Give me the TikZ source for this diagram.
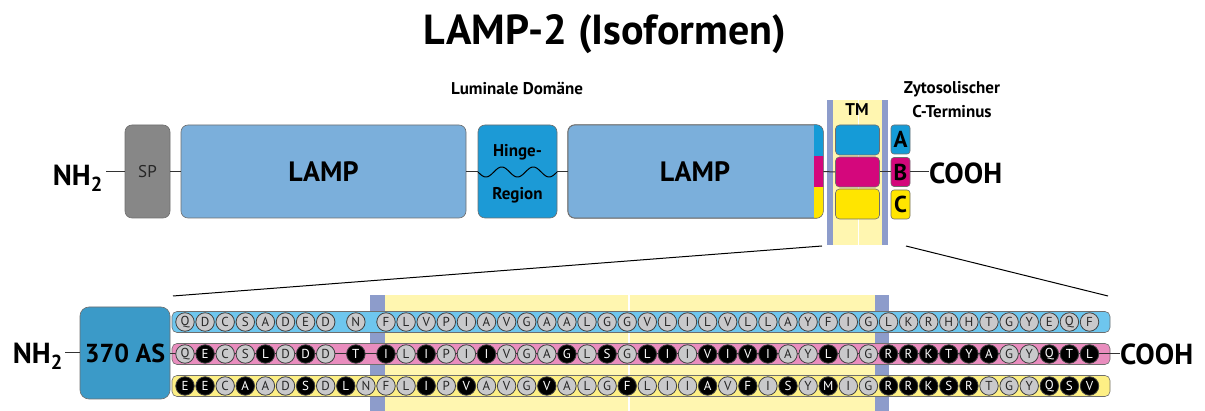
\documentclass[tikz,border=0pt]{standalone}
\usepackage{fontspec}
\setmainfont{PT Sans}
\usetikzlibrary{calc}
\definecolor{lampblue}{HTML}{7BAFDB}
\definecolor{hingeblue}{HTML}{1C9AD6}
\definecolor{spgrey}{HTML}{878787}
\definecolor{tmyellow}{HTML}{FFF6B0}
\definecolor{barblue}{HTML}{8D9CCB}
\definecolor{isoA}{HTML}{159BD7}
\definecolor{isoB}{HTML}{D4077C}
\definecolor{isoC}{HTML}{FFE500}
\definecolor{rowA}{HTML}{6EC6EE}
\definecolor{rowB}{HTML}{E98DBE}
\definecolor{rowC}{HTML}{FDEF85}
\definecolor{asblue}{HTML}{3B9AC8}
\definecolor{resgrey}{HTML}{C9C9CB}
\definecolor{edge}{HTML}{6E6E6E}
\newcommand{\seqpart}[4]{%
  \foreach \l/\c [count=\i from #2] in {#3} {
    \node[res\c] (#4-\i) at ({185+(\i-1)*20.1}, #1) {\l};
  }}
\begin{document}
\begin{tikzpicture}[x=1pt,y=-1pt,
  box/.style={draw=edge, line width=0.6pt, rounded corners=7pt, inner sep=0pt},
  conn/.style={line width=1pt, draw=black!80},
  lbl/.style={font=\bfseries\fontsize{17}{19}\selectfont, align=center},
  big/.style={font=\bfseries\fontsize{29}{32}\selectfont, inner sep=0pt},
  rowbar/.style={draw=edge, line width=0.6pt, rounded corners=5pt, minimum width=938, minimum height=21, inner sep=0pt},
  resg/.style={circle, draw=black!75, line width=0.8pt, fill=resgrey, minimum size=18.5, inner sep=0pt, text=black!85, font=\fontsize{13}{13}\selectfont},
  resb/.style={resg, fill=black, text=white},
  tmbox/.style={draw=edge, line width=0.6pt, rounded corners=4pt, minimum width=44, minimum height=30, inner sep=0pt},
  ctbox/.style={draw=edge, line width=0.6pt, rounded corners=3pt, minimum width=19, minimum height=29, inner sep=0pt, font=\bfseries\fontsize{23}{23}\selectfont},
  vbar/.style={fill=barblue, draw=none}]
\useasboundingbox (0,0) rectangle (1205,411);

% title and labels
\node[font=\bfseries\fontsize{42}{44}\selectfont] (title) at (605,34) {LAMP-2 (Isoformen)};
\node[lbl] (lum) at (517,88) {Luminale Domäne};
\node[lbl, align=center, font=\bfseries\fontsize{17}{24}\selectfont] (cyto) at (952,100) {Zytosolischer\\C-Terminus};

% TM band (top)
\fill[tmyellow] (831,100) rectangle (884,245);
\draw[white, line width=1pt] (858,100) -- (858,245);
\fill[vbar] (827,100) rectangle (833,245);
\fill[vbar] (882,100) rectangle (888,245);
\node[lbl] (tm) at (857,110) {TM};

% top boxes
\node[big, anchor=base east] (nh2) at (103,186) {NH\textsubscript{2}};
\node[box, fill=spgrey, minimum width=45, minimum height=93, font=\fontsize{17}{17}\selectfont, text=black!85] (sp) at (147.5,171.5) {SP};
\node[box, fill=lampblue, minimum width=285, minimum height=93, font=\bfseries\fontsize{28}{28}\selectfont] (lamp1) at (323.5,171.5) {LAMP};
\node[box, fill=hingeblue, minimum width=79, minimum height=93] (hinge) at (517.5,171.5) {};
\node[lbl] (hinget) at (517.5,152) {Hinge-};
\node[lbl] (hingeb) at (517.5,195) {Region};
\draw[line width=1pt] plot[domain=0:79, samples=80] ({478+\x}, {172+5*sin(\x/79*2.5*360)});
\node[box, fill=lampblue, minimum width=255, minimum height=93] (lamp2) at (695.5,171.5) {};
\begin{scope}
  \clip[rounded corners=7pt] (lamp2.north west) rectangle (lamp2.south east);
  \fill[isoA] (814,120) rectangle (825,156);
  \fill[isoB] (814,156) rectangle (825,187);
  \fill[isoC] (814,187) rectangle (825,222);
\end{scope}
\draw[draw=edge, line width=0.6pt, rounded corners=7pt] (lamp2.north west) rectangle (lamp2.south east);
\node[font=\bfseries\fontsize{28}{28}\selectfont] (lamp2t) at (695,172) {LAMP};

\node[tmbox, fill=isoA] (tma) at (857.5,140) {};
\node[tmbox, fill=isoB] (tmb) at (857.5,172) {};
\node[tmbox, fill=isoC] (tmc) at (857.5,204) {};
\node[ctbox, fill=isoA] (ca) at (900.5,139.5) {A};
\node[ctbox, fill=isoB] (cb) at (900.5,172) {B};
\node[ctbox, fill=isoC] (cc) at (900.5,204.5) {C};
\node[big, anchor=west] (cooh) at (929,173) {COOH};

\draw[conn] (nh2.east |- sp.west) ++(3,0) -- (sp.west);
\draw[conn] (sp.east) -- (lamp1.west);
\draw[conn] (lamp1.east) -- (hinge.west);
\draw[conn] (hinge.east) -- (lamp2.west);
\draw[conn] (lamp2.east) -- (tmb.west);
\draw[conn] (tmb.east) -- (cb.west);
\draw[conn] (cb.east) -- (cooh.west |- cb.east);

% zoom lines
\coordinate (zl1) at (822,246);
\coordinate (zr1) at (906,246);
\coordinate (zl2) at (173,296);
\coordinate (zr2) at (1108,296);
\draw[line width=1pt] (zl1) -- (zl2);
\draw[line width=1pt] (zr1) -- (zr2);

% bottom TM band
\fill[tmyellow] (385,295) rectangle (876,411);
\draw[white, line width=1.5pt] (629,295) -- (629,411);
\fill[vbar] (370,295) rectangle (385,411);
\fill[vbar] (875,295) rectangle (889,411);

% bottom left/right
\node[big, anchor=base east] (nh2b) at (63,364) {NH\textsubscript{2}};
\node[box, fill=asblue, rounded corners=9pt, minimum width=90, minimum height=92, font=\bfseries\fontsize{26}{26}\selectfont] (as) at (125,353) {370 AS};
\node[big, anchor=west] (coohb) at (1120,354) {COOH};
\draw[conn] (nh2b.east |- as.west) ++(2,0) -- (as.west);

% rows
\node[rowbar, fill=rowA] (rowa) at (641,322) {};
\node[rowbar, fill=rowB] (rowb) at (641,354) {};
\node[rowbar, fill=rowC] (rowc) at (641,386) {};
\draw[conn] (as.east |- rowb.center) -- (coohb.west |- rowb.center);

% row A
\seqpart{322}{1}{Q/g,D/g,C/g,S/g,A/g,D/g,E/g,D/g}{a}
\node[resg] (a-n) at (355.85,322) {N};
\seqpart{322}{11}{F/g,L/g,V/g,P/g,I/g,A/g,V/g,G/g,A/g,A/g,L/g,G/g,G/g,V/g,L/g,I/g,L/g,V/g,L/g,L/g,A/g,Y/g,F/g,I/g,G/g,L/g,K/g,R/g,H/g,H/g,T/g,G/g,Y/g,E/g,Q/g,F/g}{a}
% row B
\seqpart{354}{1}{Q/g,E/b,C/g,S/g,L/b,D/g,D/b,D/g}{b}
\node[resb] (b-t) at (355.85,354) {T};
\seqpart{354}{11}{I/b,L/g,I/b,P/g,I/g,I/b,V/g,G/g,A/g,G/b,L/g,S/b,G/g,L/b,I/b,I/g,V/b,I/b,V/b,I/b,A/g,Y/g,L/b,I/g,G/g,R/b,R/b,K/b,T/b,Y/b,A/b,G/g,Y/g,Q/b,T/b,L/b}{b}
% row C
\seqpart{386}{1}{E/b,E/b,C/g,A/b,A/g,D/g,S/b,D/g,L/b,N/g}{c}
\seqpart{386}{11}{F/g,L/g,I/b,P/g,V/b,A/g,V/g,G/g,V/b,A/g,L/g,G/g,F/b,L/g,I/g,I/g,A/b,V/g,F/b,I/g,S/b,Y/g,M/b,I/g,G/g,R/b,R/b,K/b,S/b,R/b,T/g,G/g,Y/g,Q/b,S/b,V/b}{c}
\end{tikzpicture}
\end{document}
